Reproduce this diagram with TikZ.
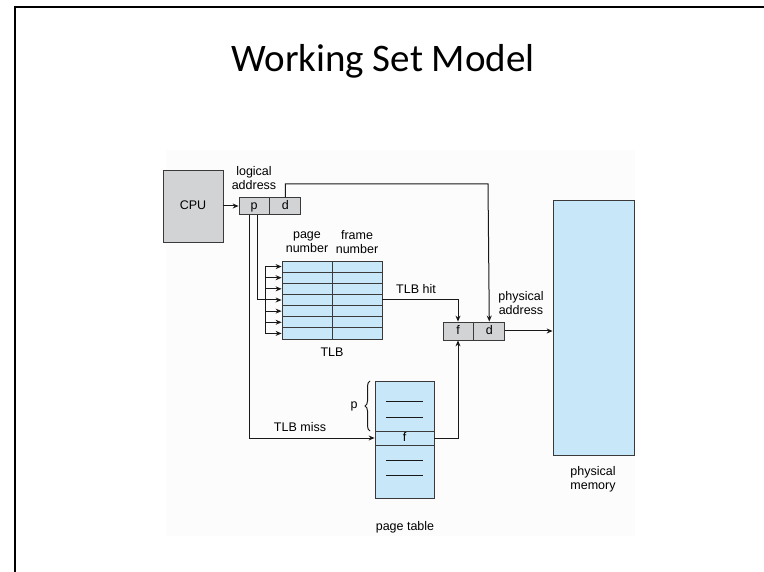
\documentclass[tikz,border=0pt]{standalone}
\usepackage{fontspec}
\setmainfont{Liberation Sans}
\newfontfamily\titlefont{Carlito}
\usepackage{tikz}
\usetikzlibrary{arrows.meta, decorations.pathreplacing, calc}

\definecolor{cellblue}{HTML}{C8E8FA}
\definecolor{boxgrey}{HTML}{D2D3D5}
\definecolor{linegrey}{HTML}{3A3A3A}

\begin{document}
\begin{tikzpicture}[x=1pt, y=-1pt, font=\fontsize{12.5}{14}\selectfont,
    every node/.style={inner sep=0pt},
    greybox/.style={draw=linegrey, fill=boxgrey, line width=0.8pt, text height=1.6ex, text depth=0.3ex},
    bluecell/.style={draw=linegrey, fill=cellblue, line width=0.8pt, text height=1.6ex, text depth=0.3ex},
    wire/.style={draw=black!90, line width=1pt},
    arr/.style={wire, -{Stealth[length=6pt, width=5pt]}}]
        \useasboundingbox (0,0) rectangle (764,572);
        \fill[black!1] (166,150) rectangle (635,536);
        \draw[line width=2pt] (15,572) -- (15,7) -- (764,7);
        
        \node[anchor=base, font=\titlefont\fontsize{39}{44}\selectfont] (title) at (383,72) {Working Set Model};
        
        % cpu and logical address
        \node[greybox, minimum width=60pt, minimum height=72pt] (cpu) at (193,206) {CPU};
        \node[greybox, minimum width=30pt, minimum height=17pt] (p) at (254,206) {p};
        \node[greybox, minimum width=31pt, minimum height=17pt, anchor=west] (d) at (p.east) {d};
        \node[align=center] (logaddr) at (254,178) {logical\\address};
        \draw[arr] (cpu.east) -- (p.west);
        
        % tlb
        \foreach \i in {1,...,7} {
            \node[bluecell, minimum width=50pt, minimum height=11.14pt] (pg\i) at (307,{255.43+11.14*\i}) {};
            \node[bluecell, minimum width=50pt, minimum height=11.14pt] (fr\i) at (357,{255.43+11.14*\i}) {};
            \coordinate (bus\i) at (265,{255.43+11.14*\i});
            \draw[arr] (bus\i) -- (pg\i.west);
        }
        \draw[wire] (bus1) -- (bus7);
        \node[align=center] (pgnum) at (307,242) {page\\number};
        \node[align=center] (frnum) at (357,242) {frame\\number};
        \node (tlb) at (332,352) {TLB};
        \draw[wire] ($(p.south)+(3,0)$) |- (bus4);
        
        % physical address
        \node[greybox, minimum width=30pt, minimum height=18pt] (pf) at (458,331) {f};
        \node[greybox, minimum width=31pt, minimum height=18pt, anchor=west] (pd) at (pf.east) {d};
        \node[align=center] (physaddr) at (521,303) {physical\\address};
        \coordinate (turn) at (488,184);
        \draw[arr] (d.north) |- (turn) -- (pd.north);
        \draw[arr] (fr4.east) -| (pf.north);
        \node (hit) at (416,289) {TLB hit};
        
        % memory
        \node[draw=linegrey, fill=cellblue, line width=0.8pt, minimum width=81pt, minimum height=255pt] (mem) at (593.5,327.5) {};
        \node[align=center] (memlabel) at (593,479) {physical\\memory};
        \draw[arr] (pd.east) -- (pd.east -| mem.west);
        
        % page table
        \node[bluecell, minimum width=59pt, minimum height=50pt] (ptop) at (404.5,406) {};
        \node[bluecell, minimum width=59pt, minimum height=14pt] (pfrow) at (404.5,438) {f};
        \node[bluecell, minimum width=59pt, minimum height=53pt] (pbot) at (404.5,471.5) {};
        \foreach \y in {402,417,460,475}
            \draw[wire] (386,\y) -- (423,\y);
        \node (ptlabel) at (405,527) {page table};
        \draw[wire, decorate, decoration={brace, amplitude=5pt}] (370,431) -- (370,381);
        \node (plabel) at (354,406) {p};
        \draw[arr] ($(p.south)+(-5,0)$) |- (pfrow.west);
        \node (miss) at (300,427) {TLB miss};
        \draw[arr] (pfrow.east) -| (pf.south);
\end{tikzpicture}
\end{document}
